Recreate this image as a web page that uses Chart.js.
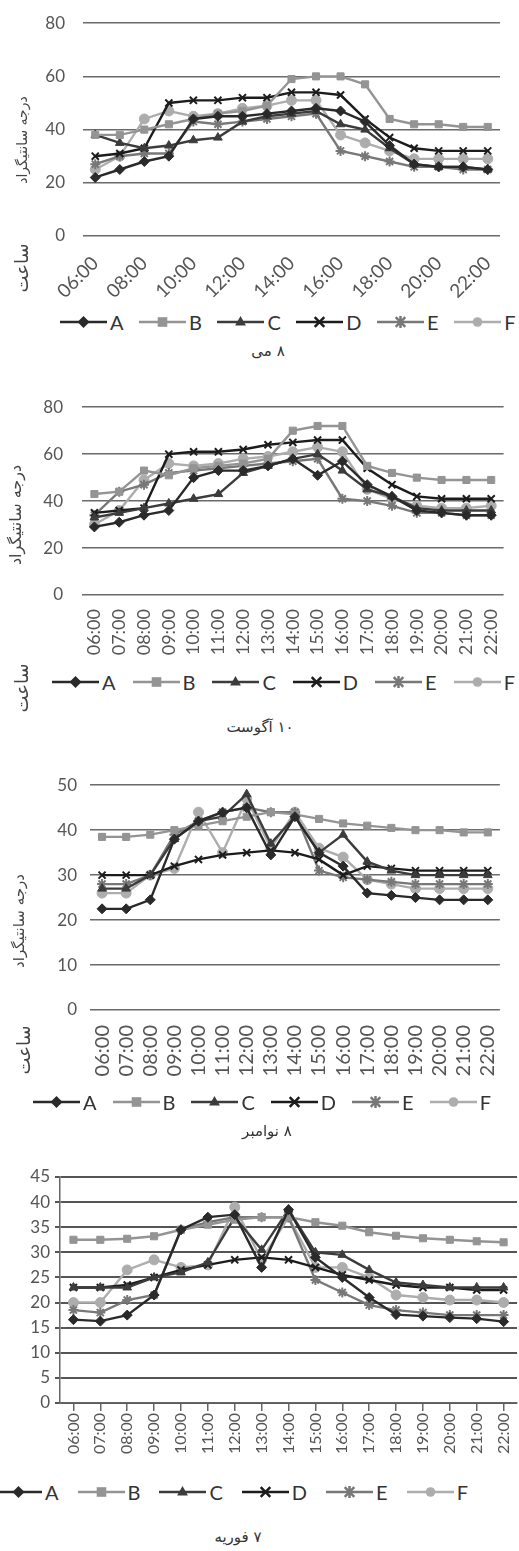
<!DOCTYPE html>
<html>
<head>
<meta charset="utf-8">
<script src="https://cdn.jsdelivr.net/npm/chart.js@4"></script>
<style>
body { margin: 0; width: 519px; height: 1551px; overflow: hidden; background: #fff; position: relative; }
canvas.plot { position: absolute; }
.vtext { position: absolute; width: 200px; height: 22px; line-height: 22px; text-align: center; direction: rtl;
  font-family: 'DejaVu Sans', sans-serif; color: #444; transform: rotate(-90deg); white-space: nowrap; }
.title { position: absolute; width: 200px; text-align: center; direction: rtl; font-family: 'DejaVu Sans', sans-serif;
  font-size: 15px; color: #333; white-space: nowrap; }
.legend { position: absolute; display: flex; align-items: center; height: 24px; font-family: Lato, sans-serif;
  font-size: 20px; color: #333; white-space: nowrap; }
.legend .item { display: flex; align-items: center; }
.legend canvas { margin-right: 3px; }
</style>
</head>
<body>
<canvas class="plot" id="c1" width="519" height="310" style="left:0px;top:-5px"></canvas>
<canvas class="plot" id="c2" width="519" height="290" style="left:0px;top:378px"></canvas>
<canvas class="plot" id="c3" width="519" height="320" style="left:0px;top:762px"></canvas>
<canvas class="plot" id="c4" width="525" height="310" style="left:0px;top:1160px"></canvas>

<div class="vtext" style="left:-78px;top:129px;font-size:14px">درجه سانتیگراد</div>
<div class="vtext" style="left:-78px;top:257px;font-size:18px">ساعت</div>
<div class="vtext" style="left:-84px;top:504px;font-size:16px">درجه سانتیگراد</div>
<div class="vtext" style="left:-78px;top:677px;font-size:18px">ساعت</div>
<div class="vtext" style="left:-81px;top:910px;font-size:15px">درجه سانتیگراد</div>
<div class="vtext" style="left:-76px;top:1039px;font-size:18px">ساعت</div>

<div class="legend" id="l1" style="left:60px;top:310px"></div>
<div class="legend" id="l2" style="left:52px;top:670px"></div>
<div class="legend" id="l3" style="left:33px;top:1090px"></div>
<div class="legend" id="l4" style="left:-5px;top:1480px"></div>

<div class="title" style="left:168px;top:342px">۸ می</div>
<div class="title" style="left:160px;top:718px">۱۰ آگوست</div>
<div class="title" style="left:167px;top:1122px">۸ نوامبر</div>
<div class="title" style="left:138px;top:1528px">۷ فوریه</div>
<script>
const hours = ['06:00', '07:00', '08:00', '09:00', '10:00', '11:00', '12:00', '13:00', '14:00',
  '15:00', '16:00', '17:00', '18:00', '19:00', '20:00', '21:00', '22:00'];
const names = ['A', 'B', 'C', 'D', 'E', 'F'];

// ۸ می
const mayA = [22, 25, 28, 30, 44, 45, 45, 46, 47, 48, 47, 43, 34, 27, 26, 26, 25];
const mayB = [38, 38, 40, 42, 44, 46, 47, 49, 59, 60, 60, 57, 44, 42, 42, 41, 41];
const mayC = [38, 35, 33, 34, 36, 37, 43, 45, 46, 47, 42, 40, 33, 27, 26, 26, 25];
const mayD = [30, 31, 33, 50, 51, 51, 52, 52, 54, 54, 53, 44, 37, 33, 32, 32, 32];
const mayE = [27, 30, 31, 31, 43, 42, 43, 44, 45, 46, 32, 30, 28, 26, 26, 25, 25];
const mayF = [25, 30, 44, 47, 45, 46, 48, 49, 51, 51, 38, 35, 32, 29, 29, 29, 29];

// ۱۰ آگوست
const augA = [29, 31, 34, 36, 50, 53, 53, 55, 58, 51, 57, 47, 42, 36, 35, 34, 34];
const augB = [43, 44, 53, 51, 54, 55, 56, 58, 70, 72, 72, 55, 52, 50, 49, 49, 49];
const augC = [33, 35, 37, 39, 41, 43, 52, 55, 58, 60, 53, 45, 42, 37, 36, 36, 36];
const augD = [35, 36, 37, 60, 61, 61, 62, 64, 65, 66, 66, 54, 47, 42, 41, 41, 41];
const augE = [34, 44, 47, 52, 53, 54, 55, 56, 57, 58, 41, 40, 38, 35, 35, 34, 34];
const augF = [30, 36, 49, 56, 55, 56, 58, 59, 61, 63, 61, 45, 41, 38, 37, 37, 38];

// ۸ نوامبر
const novA = [22.5, 22.5, 24.5, 38, 42, 44, 45, 34.5, 43, 35, 32, 26, 25.5, 25, 24.5, 24.5, 24.5];
const novB = [38.5, 38.5, 39, 40, 41, 42, 43, 44, 43.5, 42.5, 41.5, 41, 40.5, 40, 40, 39.5, 39.5];
const novC = [27, 27, 30, 38, 42, 43, 48, 37, 43, 35, 39, 33, 31, 30, 30, 30, 30];
const novD = [30, 30, 30, 32, 33.5, 34.5, 35, 35.5, 35, 33.5, 30, 32, 31.5, 31, 31, 31, 31];
const novE = [28, 28, 30, 39, 42, 44, 45, 44, 44, 31, 29.5, 29, 28.5, 28, 28, 28, 28];
const novF = [26, 26, 30, 31.5, 44, 35, 47, 36, 44, 36, 34, 29, 28, 27, 27, 27, 27];

// ۷ فوریه
const febA = [16.6, 16.3, 17.5, 21.5, 34.5, 37, 37.5, 27, 38.5, 29, 25, 21, 17.6, 17.3, 17, 16.8, 16.2];
const febB = [32.5, 32.5, 32.7, 33.2, 34.5, 35.5, 36.5, 37, 37, 36, 35.3, 34, 33.3, 32.8, 32.5, 32.2, 32];
const febC = [23, 23, 23, 25, 26, 28, 37, 30.5, 38.5, 30, 29.5, 26.5, 24, 23.5, 23, 23, 23];
const febD = [23, 23, 23.5, 25, 26.5, 27.5, 28.5, 29, 28.5, 27, 25.5, 24.5, 23.5, 23, 23, 22.5, 22.5];
const febE = [18.5, 18, 20.5, 21.5, 34.5, 36, 37, 37, 37, 24.5, 22, 19.5, 18.5, 18, 17.5, 17.5, 17.5];
const febF = [20, 20, 26.5, 28.5, 27, 27.5, 39, 28.5, 37, 27, 27, 25, 21.5, 21, 20.5, 20.5, 20];

const lineColors = ['#2a2a2a', '#949494', '#3c3c3c', '#1c1c1c', '#787878', '#adadad'];
const markers = ['rectRot', 'rect', 'triangle', 'crossRot', 'star', 'circle'];
const latin = 'Lato, "DejaVu Sans", sans-serif';

function drawMarker(g, style, x, y, r) {
    g.beginPath();
    if (style === 'rectRot') {
        g.moveTo(x, y - r); g.lineTo(x + r, y); g.lineTo(x, y + r); g.lineTo(x - r, y);
        g.closePath(); g.fill();
    } else if (style === 'rect') {
        g.fillRect(x - r * 0.8, y - r * 0.8, r * 1.6, r * 1.6);
    } else if (style === 'triangle') {
        g.moveTo(x, y - r); g.lineTo(x + r * 0.9, y + r * 0.6); g.lineTo(x - r * 0.9, y + r * 0.6);
        g.closePath(); g.fill();
    } else if (style === 'crossRot' || style === 'star') {
        let d = r * 0.8;
        g.moveTo(x - d, y - d); g.lineTo(x + d, y + d);
        g.moveTo(x + d, y - d); g.lineTo(x - d, y + d);
        if (style === 'star') { g.moveTo(x, y - r); g.lineTo(x, y + r); }
        g.stroke();
    } else {
        g.arc(x, y, r * 0.8, 0, Math.PI * 2); g.fill();
    }
}

// html legend, one entry per dataset of the chart
function buildLegend(chart, box, gap) {
    chart.data.datasets.forEach((ds, i) => {
        let item = document.createElement('div');
        item.className = 'item';
        if (i > 0) item.style.marginLeft = gap + 'px';
        let c = document.createElement('canvas');
        c.width = 47; c.height = 16;
        let g = c.getContext('2d');
        g.strokeStyle = ds.borderColor;
        g.fillStyle = ds.borderColor;
        g.lineWidth = 2.5;
        g.beginPath(); g.moveTo(0, 8); g.lineTo(47, 8); g.stroke();
        drawMarker(g, ds.pointStyle, 23.5, 8, 6);
        let t = document.createElement('span');
        t.textContent = ds.label;
        item.appendChild(c);
        item.appendChild(t);
        box.appendChild(item);
    });
}

function buildSets(values) {
    return names.map((n, i) => ({
        label: n,
        data: values[i],
        borderColor: lineColors[i],
        backgroundColor: lineColors[i],
        borderWidth: 2.4,
        pointStyle: markers[i],
        pointRadius: 5,
        pointBorderWidth: (i === 3 || i === 4) ? 2 : 1,
        tension: 0
    }));
}

function drawChart(canvas, values, cfg) {
    return new Chart(canvas, {
        type: 'line',
        data: { labels: hours, datasets: buildSets(values) },
        options: {
            responsive: false,
            animation: false,
            layout: { padding: { left: 0, right: cfg.padRight, top: cfg.padTop, bottom: 0 } },
            scales: {
                x: {
                    offset: true,
                    afterFit: s => { s.height = cfg.xHeight; },
                    border: { display: cfg.axisLines, color: '#666', width: 1.5 },
                    grid: { display: cfg.axisLines, drawOnChartArea: false, drawTicks: true, tickLength: 8, color: '#666', lineWidth: 1.5 },
                    ticks: {
                        autoSkip: false,
                        minRotation: cfg.rotation,
                        maxRotation: cfg.rotation,
                        color: '#555',
                        padding: cfg.xPad,
                        font: { family: latin, size: cfg.xFont },
                        callback: function(v, i) { return (cfg.everyOther && i % 2) ? '' : hours[i]; }
                    }
                },
                y: {
                    min: 0,
                    max: cfg.yMax,
                    afterFit: s => { s.width = cfg.yWidth; },
                    border: { display: cfg.axisLines, color: '#666', width: 1.5 },
                    grid: { color: cfg.gridColor, lineWidth: cfg.gridWidth, drawTicks: cfg.axisLines, tickLength: 5 },
                    ticks: { stepSize: cfg.yStep, color: '#555', padding: cfg.yPad, font: { family: latin, size: 17 } }
                }
            },
            plugins: {
                legend: { display: false },
                title: { display: false },
                tooltip: { enabled: false }
            }
        }
    });
}

const ch1 = drawChart(document.getElementById('c1'), [mayA, mayB, mayC, mayD, mayE, mayF], {
    yMax: 80, yStep: 20, rotation: 45, everyOther: true, axisLines: false, xFont: 19,
    xPad: 8, yPad: 18, yWidth: 83, xHeight: 69, padTop: 18, padRight: 19,
    gridColor: '#6a6a6a', gridWidth: 1.6
});
const ch2 = drawChart(document.getElementById('c2'), [augA, augB, augC, augD, augE, augF], {
    yMax: 80, yStep: 20, rotation: 90, everyOther: false, axisLines: false, xFont: 18,
    xPad: 6, yPad: 19, yWidth: 82, xHeight: 73, padTop: 28, padRight: 6,
    gridColor: '#6a6a6a', gridWidth: 1.6
});
const ch3 = drawChart(document.getElementById('c3'), [novA, novB, novC, novD, novE, novF], {
    yMax: 50, yStep: 10, rotation: 90, everyOther: false, axisLines: false, xFont: 20,
    xPad: 7, yPad: 13, yWidth: 90, xHeight: 72, padTop: 6, padRight: 1,
    gridColor: '#6a6a6a', gridWidth: 1.6
});
const ch4 = drawChart(document.getElementById('c4'), [febA, febB, febC, febD, febE, febF], {
    yMax: 45, yStep: 5, rotation: 90, everyOther: false, axisLines: true, xFont: 16,
    xPad: 2, yPad: 5, yWidth: 60, xHeight: 67, padTop: 17, padRight: 0,
    gridColor: '#555', gridWidth: 2
});

buildLegend(ch1, document.getElementById('l1'), 15.5);
buildLegend(ch2, document.getElementById('l2'), 17);
buildLegend(ch3, document.getElementById('l3'), 16);
buildLegend(ch4, document.getElementById('l4'), 19);
</script>
</body>
</html>
